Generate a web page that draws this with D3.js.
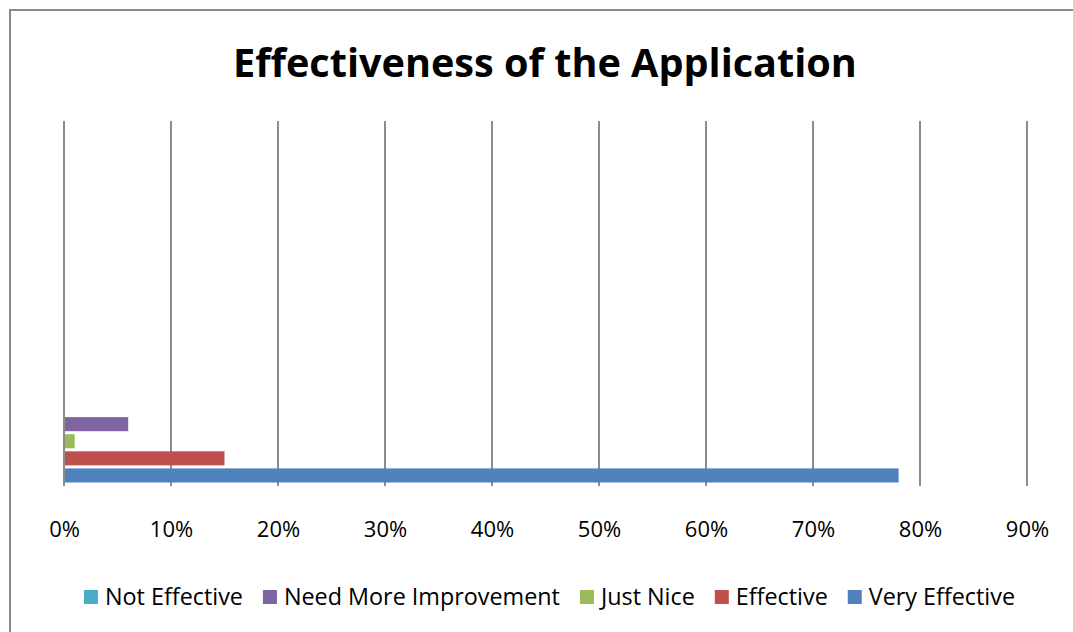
<!DOCTYPE html>
<html>
<head>
<meta charset="utf-8">
<script src="https://cdn.jsdelivr.net/npm/d3@7"></script>
<style>
  html, body { margin: 0; padding: 0; background: #fff; }
  svg { display: block; }
  text { font-family: "Open Sans", "Noto Sans", sans-serif; fill: #000; }
</style>
</head>
<body>
<svg id="chart" width="1073" height="632"></svg>
<script>
// Survey responses: share of respondents per rating
const seriesNames = ["Not Effective", "Need More Improvement", "Just Nice", "Effective", "Very Effective"];
const seriesValues = [0, 0.06, 0.01, 0.15, 0.78];
const seriesColors = ["#4BACC6", "#8064A2", "#9BBB59", "#C0504D", "#4F81BD"];
const tickValues = [0, 0.1, 0.2, 0.3, 0.4, 0.5, 0.6, 0.7, 0.8, 0.9];
const tickLabels = ["0%", "10%", "20%", "30%", "40%", "50%", "60%", "70%", "80%", "90%"];
const titleText = "Effectiveness of the Application";

const W = 1073, H = 632;
const plot = { left: 64, right: 1027, top: 121, bottom: 486 };

const svg = d3.select("#chart");

// chart area frame (top and left edges visible)
svg.append("path")
  .attr("d", `M10,${H + 5} L10,10 L${W + 5},10`)
  .attr("fill", "none")
  .attr("stroke", "#8a8a8a")
  .attr("stroke-width", 2);

// fit a text element's font size to a target width
function fitWidth(sel, target) {
  const fs = parseFloat(sel.attr("font-size"));
  const w = sel.node().getComputedTextLength();
  sel.attr("font-size", (fs * target / w).toFixed(2));
}

// title
const title = svg.append("text")
  .attr("x", 545).attr("y", 77)
  .attr("text-anchor", "middle")
  .attr("font-weight", "bold")
  .attr("font-size", 40)
  .text(titleText);
fitWidth(title, 624);

const x = d3.scaleLinear().domain([0, 0.9]).range([plot.left, plot.right]);

// series bars stacked at the bottom of the category band
const y = d3.scaleBand()
  .domain(seriesNames)
  .range([398.5, 484])
  .paddingInner(3 / 17)
  .paddingOuter(3 / 34);

// vertical gridlines
svg.append("g")
  .selectAll("line")
  .data(tickValues)
  .join("line")
  .attr("x1", d => x(d)).attr("x2", d => x(d))
  .attr("y1", plot.top).attr("y2", plot.bottom)
  .attr("stroke", "#8c8c8c")
  .attr("stroke-width", 2);

// bars
svg.append("g")
  .selectAll("rect")
  .data(seriesNames.map((n, i) => ({ name: n, value: seriesValues[i], color: seriesColors[i] })))
  .join("rect")
  .attr("x", x(0) + 1)
  .attr("y", d => y(d.name))
  .attr("width", d => Math.max(0, x(d.value) - x(0) - 1))
  .attr("height", y.bandwidth())
  .attr("fill", d => d.color);

// x axis labels
const axis = d3.axisBottom(x)
  .tickValues(tickValues)
  .tickFormat((d, i) => tickLabels[i])
  .tickSize(0)
  .tickPadding(0);
const axisG = svg.append("g")
  .attr("transform", `translate(0, ${plot.bottom})`)
  .call(axis);
axisG.select(".domain").remove();
axisG.selectAll("text")
  .attr("dy", null)
  .attr("y", 51)
  .attr("font-size", 22)
  .attr("font-family", "\"Open Sans\", sans-serif")
  .attr("fill", "#000");

// legend
const legend = svg.append("g");
const items = legend.selectAll("g")
  .data(seriesNames.map((n, i) => ({ name: n, color: seriesColors[i] })))
  .join("g");
items.append("rect")
  .attr("width", 14).attr("height", 14)
  .attr("y", 590)
  .attr("fill", d => d.color);
const labels = items.append("text")
  .attr("y", 605)
  .attr("x", 21)
  .attr("font-size", 20)
  .text(d => d.name);
fitWidth(d3.select(labels.nodes()[0]), 138);
const legendFs = d3.select(labels.nodes()[0]).attr("font-size");
labels.attr("font-size", legendFs);
let cx = 0;
const offsets = [];
labels.each(function () {
  offsets.push(cx);
  cx += 21 + this.getComputedTextLength() + 20;
});
const totalW = cx - 20;
const startX = 549.5 - totalW / 2;
items.attr("transform", (d, i) => `translate(${startX + offsets[i]}, 0)`);
</script>
</body>
</html>
